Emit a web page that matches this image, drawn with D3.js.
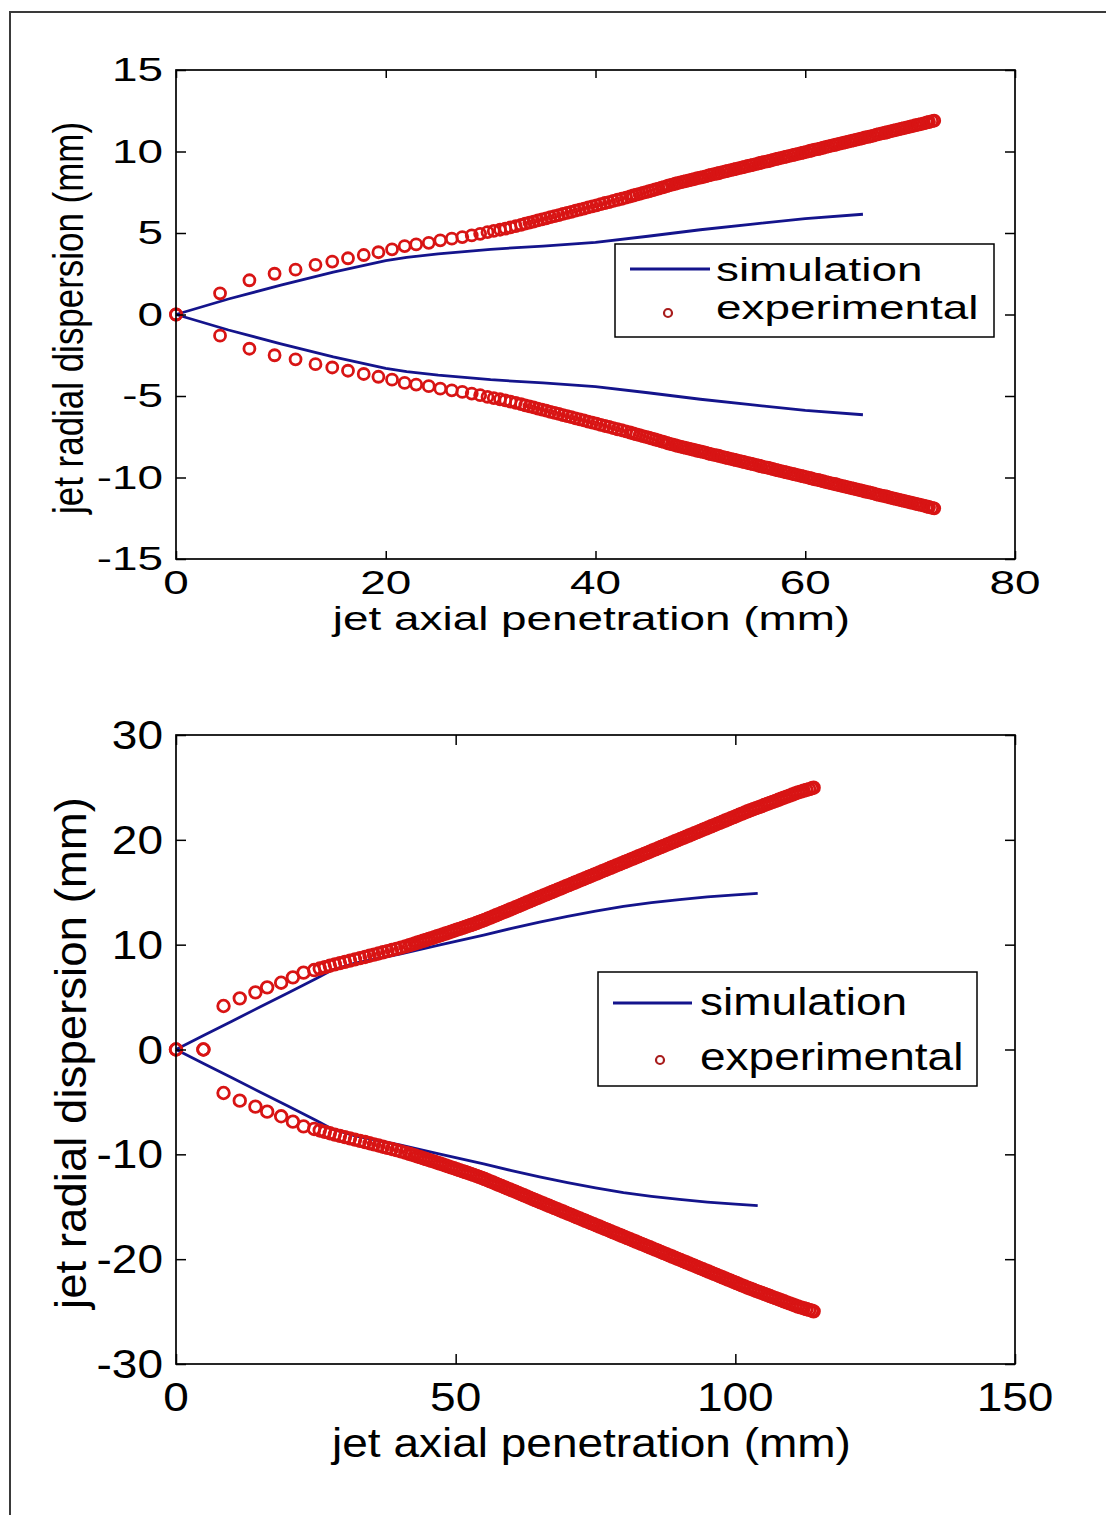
<!DOCTYPE html>
<html><head><meta charset="utf-8">
<script src="https://cdn.jsdelivr.net/npm/d3@7"></script>
<style>body{margin:0;background:#fff}svg{display:block}text{font-family:"Liberation Sans",Arial,sans-serif;fill:#000}</style>
</head><body><div id="chart"></div>
<script>
// ---------- data: top panel ----------
const top_xTicks = [0, 20, 40, 60, 80];
const top_yTicks = [-15, -10, -5, 0, 5, 10, 15];
const top_simX = [0, 5, 10, 15, 20, 22, 25, 30, 35, 40, 45, 50, 55, 60, 65.5];
const top_simR = [0, 0.95, 1.8, 2.6, 3.3, 3.5, 3.72, 4.0, 4.2, 4.42, 4.8, 5.2, 5.55, 5.88, 6.15];
const top_expX = [0, 4.2, 7.0, 9.4, 11.4, 13.3, 14.9, 16.4, 17.9, 19.3, 20.6, 21.8, 22.9, 24.1, 25.2, 26.3,
  27.3, 28.2, 29.0, 29.7, 30.3, 30.9, 31.4, 31.9, 32.4, 32.9, 33.3, 33.7, 34.1, 34.5, 34.9, 35.3, 35.7, 36.1, 36.5, 36.9,
  37.3, 37.7, 38.1, 38.5, 38.9, 39.3, 39.7, 40.1, 40.5, 40.9, 41.3, 41.7, 42.1, 42.5, 42.9, 43.3, 43.6, 43.9, 44.2, 44.5,
  44.8, 45.1, 45.4, 45.7, 46.0, 46.3,
  46.5, 46.8, 47.0, 47.3, 47.6, 47.8, 48.1, 48.4, 48.6, 48.9, 49.2, 49.4,
  49.7, 50.0, 50.2, 50.5, 50.8, 51.0, 51.3, 51.6, 51.8, 52.1, 52.4, 52.6, 52.9, 53.2, 53.4, 53.7, 54.0, 54.2, 54.5, 54.8,
  55.0, 55.3, 55.6, 55.8, 56.1, 56.4, 56.6, 56.9, 57.2, 57.4, 57.7, 58.0, 58.2, 58.5, 58.8, 59.0, 59.3, 59.6, 59.8, 60.1,
  60.4, 60.6, 60.9, 61.2, 61.4, 61.7, 62.0, 62.2, 62.5, 62.8, 63.0, 63.3, 63.6, 63.8, 64.1, 64.4, 64.6, 64.9, 65.2, 65.4,
  65.7, 66.0, 66.2, 66.5, 66.8, 67.0, 67.3, 67.6, 67.8, 68.1, 68.4, 68.6, 68.9, 69.2, 69.4, 69.7, 70.0, 70.2, 70.5, 70.8,
  71.0, 71.3, 71.6, 71.8, 72.1, 72.3];
const top_expR = [0, 1.3, 2.1, 2.5, 2.75, 3.05, 3.25, 3.45, 3.65, 3.82, 4.0, 4.2, 4.3, 4.4, 4.55, 4.65,
  4.75, 4.85, 4.95, 5.05, 5.13, 5.2, 5.27, 5.34, 5.42, 5.5, 5.57, 5.64, 5.7, 5.77, 5.83, 5.9, 5.97, 6.04, 6.1, 6.17,
  6.24, 6.3, 6.37, 6.44, 6.5, 6.57, 6.63, 6.7, 6.77, 6.84, 6.9, 6.97, 7.04, 7.1, 7.17, 7.24, 7.3, 7.35, 7.4, 7.46,
  7.51, 7.56, 7.62, 7.67, 7.72, 7.78,
  7.82, 7.88, 7.92, 7.97, 8.02, 8.06, 8.1, 8.15, 8.18, 8.23, 8.28, 8.31,
  8.36, 8.4, 8.43, 8.48, 8.53, 8.56, 8.61, 8.65, 8.68, 8.73, 8.78, 8.81, 8.86, 8.9, 8.93, 8.98, 9.03, 9.06, 9.11, 9.15,
  9.18, 9.23, 9.28, 9.31, 9.36, 9.4, 9.43, 9.48, 9.53, 9.56, 9.61, 9.65, 9.68, 9.73, 9.78, 9.81, 9.86, 9.9, 9.93, 9.98,
  10.03, 10.06, 10.11, 10.15, 10.18, 10.23, 10.28, 10.31, 10.36, 10.4, 10.43, 10.48, 10.53, 10.56, 10.61, 10.65, 10.68, 10.73, 10.78, 10.81,
  10.86, 10.9, 10.93, 10.98, 11.03, 11.06, 11.11, 11.15, 11.18, 11.23, 11.28, 11.31, 11.36, 11.4, 11.43, 11.48, 11.53, 11.56, 11.61, 11.65,
  11.68, 11.73, 11.78, 11.81, 11.86, 11.89];

// ---------- data: bottom panel ----------
const bot_xTicks = [0, 50, 100, 150];
const bot_yTicks = [-30, -20, -10, 0, 10, 20, 30];
const bot_simX = [0, 5, 10, 15, 20, 25, 28, 32, 40, 47, 55, 60, 65, 70, 75, 80, 85, 90, 95, 100, 104];
const bot_simR = [0, 1.35, 2.7, 4.05, 5.4, 6.75, 7.6, 8.25, 9.1, 9.95, 10.9, 11.55, 12.15, 12.7, 13.2, 13.65, 14.0, 14.3, 14.55, 14.75, 14.9];
const bot_expX = [0, 4.9, 8.5, 11.4, 14.2, 16.3, 18.8, 20.9, 22.8, 24.7, 25.7, 26.6, 27.5, 28.4, 29.3, 30.2, 31.1, 32.0, 32.9,
  33.8, 34.6, 35.4, 36.2, 37.0, 37.8, 38.6, 39.4, 40.2, 41.0, 41.7, 42.2, 42.7, 43.2, 43.7, 44.2, 44.7, 45.2, 45.7, 46.2,
  46.7, 47.2, 47.7, 48.2, 48.7, 49.2, 49.7, 50.2, 50.7, 51.2, 51.7, 52.2, 52.7, 53.2, 53.7, 54.2, 54.7, 55.2, 55.7, 56.2,
  56.7, 57.2, 57.7, 58.2, 58.7, 59.2, 59.7, 60.2, 60.7, 61.2, 61.7, 62.2, 62.7, 63.2, 63.7, 64.2, 64.7, 65.2, 65.7, 66.2,
  66.7, 67.2, 67.7, 68.2, 68.7, 69.2, 69.7, 70.2, 70.7, 71.2, 71.7, 72.2, 72.7, 73.2, 73.7, 74.2, 74.7, 75.2, 75.7, 76.2,
  76.7, 77.2, 77.7, 78.2, 78.7, 79.2, 79.7, 80.2, 80.7, 81.2, 81.7, 82.2, 82.7, 83.2, 83.7, 84.2, 84.7, 85.2, 85.7, 86.2,
  86.7, 87.2, 87.7, 88.2, 88.7, 89.2, 89.7, 90.2, 90.7, 91.2, 91.7, 92.2, 92.7, 93.2, 93.7, 94.2, 94.7, 95.2, 95.7, 96.2,
  96.7, 97.2, 97.7, 98.2, 98.7, 99.2, 99.7, 100.2, 100.7, 101.2, 101.7, 102.2, 102.7, 103.2, 103.7, 104.2, 104.7, 105.2, 105.7, 106.2,
  106.7, 107.2, 107.7, 108.2, 108.7, 109.2, 109.7, 110.2, 110.7, 111.2, 111.7, 112.2, 112.7, 113.2, 113.7, 114.0];
const bot_expR = [0, 0, 4.15, 4.88, 5.45, 5.93, 6.37, 6.88, 7.33, 7.58, 7.72, 7.86, 7.99, 8.12, 8.24, 8.36, 8.48, 8.6, 8.72,
  8.83, 8.94, 9.05, 9.16, 9.27, 9.38, 9.49, 9.6, 9.72, 9.84, 9.95, 10.03, 10.11, 10.2, 10.28, 10.37, 10.45, 10.54, 10.62, 10.71,
  10.8, 10.88, 10.97, 11.06, 11.15, 11.24, 11.33, 11.42, 11.51, 11.6, 11.69, 11.78, 11.87, 11.96, 12.06, 12.16, 12.26, 12.36, 12.47, 12.58,
  12.69, 12.8, 12.91, 13.02, 13.13, 13.24, 13.35, 13.46, 13.57, 13.68, 13.8, 13.91, 14.02, 14.13, 14.25, 14.36, 14.47, 14.58, 14.69, 14.8,
  14.91, 15.02, 15.13, 15.24, 15.35, 15.46, 15.57, 15.68, 15.79, 15.9, 16.01, 16.12, 16.23, 16.34, 16.45, 16.56, 16.67, 16.78, 16.89, 17.0,
  17.11, 17.22, 17.33, 17.44, 17.55, 17.66, 17.77, 17.88, 17.99, 18.1, 18.21, 18.32, 18.43, 18.54, 18.65, 18.76, 18.87, 18.98, 19.09, 19.2,
  19.31, 19.42, 19.53, 19.64, 19.75, 19.86, 19.97, 20.08, 20.19, 20.3, 20.41, 20.52, 20.63, 20.74, 20.85, 20.96, 21.07, 21.18, 21.29, 21.4,
  21.51, 21.62, 21.73, 21.84, 21.95, 22.06, 22.17, 22.28, 22.39, 22.5, 22.61, 22.72, 22.82, 22.92, 23.02, 23.12, 23.22, 23.32, 23.42, 23.52,
  23.62, 23.72, 23.82, 23.92, 24.02, 24.12, 24.22, 24.32, 24.42, 24.52, 24.6, 24.68, 24.76, 24.84, 24.92, 24.98];

const legendLabels = ["simulation", "experimental"];
const xLabel = "jet axial penetration (mm)";
const yLabel = "jet radial dispersion (mm)";

// ---------- drawing ----------
const W = 1106, H = 1515;
const svg = d3.select("#chart").append("svg").attr("width", W).attr("height", H);
svg.append("rect").attr("width", W).attr("height", H).attr("fill", "#fff");
svg.append("path").attr("d", `M10,${H} L10,12 L${W},12`).attr("fill", "none").attr("stroke", "#3a3a3a").attr("stroke-width", 2);

const SIM = "#14148c", EXP = "#d81414";

function stext(g, str, x, y, size, sx, anchor, rotate) {
  const t = g.append("text").text(str).attr("font-size", size).attr("text-anchor", anchor || "start");
  t.attr("transform", `translate(${x},${y}) scale(${sx},1)` + (rotate ? ` rotate(${rotate})` : ""));
  return t;
}

function panel(cfg) {
  const g = svg.append("g");
  const x = d3.scaleLinear().domain(cfg.xDomain).range([cfg.left, cfg.right]);
  const y = d3.scaleLinear().domain(cfg.yDomain).range([cfg.bottom, cfg.top]);

  // simulation lines (upper and lower)
  const line = d3.line().x(d => x(d[0])).y(d => y(d[1]));
  const up = cfg.simX.map((v, i) => [v, cfg.simR[i]]);
  const lo = cfg.simX.map((v, i) => [v, -cfg.simR[i]]);
  [up, lo].forEach(p => g.append("path").attr("d", line(p)).attr("fill", "none")
    .attr("stroke", SIM).attr("stroke-width", 2.8).attr("stroke-linejoin", "round"));

  // experimental circles
  const pts = [];
  cfg.expX.forEach((v, i) => { pts.push([v, cfg.expR[i]]); pts.push([v, -cfg.expR[i]]); });
  g.append("g").selectAll("circle").data(pts).join("circle")
    .attr("cx", d => x(d[0])).attr("cy", d => y(d[1])).attr("r", cfg.mr)
    .attr("fill", "none").attr("stroke", EXP).attr("stroke-width", 2.8);

  // axes box
  g.append("rect").attr("x", cfg.left).attr("y", cfg.top).attr("width", cfg.right - cfg.left)
    .attr("height", cfg.bottom - cfg.top).attr("fill", "none").attr("stroke", "#000").attr("stroke-width", 1.7);

  // ticks via d3 axes (inward), mirrored on top/right
  const ax = (gen, tr) => g.append("g").attr("transform", tr).call(gen)
    .call(s => { s.select(".domain").remove(); s.selectAll("text").remove(); s.selectAll("line").attr("stroke", "#000").attr("stroke-width", 1.5); });
  ax(d3.axisBottom(x).tickValues(cfg.xTicks).tickSize(-cfg.tickLenV), `translate(0,${cfg.bottom})`);
  ax(d3.axisTop(x).tickValues(cfg.xTicks).tickSize(-cfg.tickLenV), `translate(0,${cfg.top})`);
  ax(d3.axisLeft(y).tickValues(cfg.yTicks).tickSize(-cfg.tickLen), `translate(${cfg.left},0)`);
  ax(d3.axisRight(y).tickValues(cfg.yTicks).tickSize(-cfg.tickLen), `translate(${cfg.right},0)`);

  // tick labels
  cfg.yTicks.forEach(v => stext(g, String(v), cfg.left - 13, y(v) + cfg.yLabOff, cfg.fs, cfg.sx, "end"));
  cfg.xTicks.forEach(v => stext(g, String(v), x(v), cfg.xTickBase, cfg.fs, cfg.sx, "middle"));

  // axis titles
  stext(g, xLabel, (cfg.left + cfg.right) / 2 - 4, cfg.xLabBase, cfg.fs, cfg.sx, "middle");
  g.append("text").text(yLabel).attr("font-size", cfg.fs).attr("text-anchor", "middle")
    .attr("textLength", cfg.yLabLen).attr("lengthAdjust", "spacingAndGlyphs")
    .attr("transform", `translate(${cfg.yLabX},${cfg.yLabY}) scale(${cfg.ySx},1) rotate(-90)`);

  // legend
  const L = cfg.legend;
  g.append("rect").attr("x", L.x0).attr("y", L.y0).attr("width", L.x1 - L.x0).attr("height", L.y1 - L.y0)
    .attr("fill", "#fff").attr("stroke", "#000").attr("stroke-width", 1.5);
  g.append("line").attr("x1", L.lx0).attr("x2", L.lx1).attr("y1", L.ly).attr("y2", L.ly)
    .attr("stroke", SIM).attr("stroke-width", 2.8);
  g.append("circle").attr("cx", L.mx).attr("cy", L.my).attr("r", 4).attr("fill", "none")
    .attr("stroke", "#a81c1c").attr("stroke-width", 2.2);
  stext(g, legendLabels[0], L.tx, L.b1, L.fs, L.sx, "start");
  stext(g, legendLabels[1], L.tx, L.b2, L.fs, L.sx, "start");
}

panel({
  left: 176, right: 1015, top: 70, bottom: 559,
  xDomain: [0, 80], yDomain: [-15, 15], xTicks: top_xTicks, yTicks: top_yTicks,
  simX: top_simX, simR: top_simR, expX: top_expX, expR: top_expR, mr: 5.5,
  tickLen: 10, tickLenV: 8,
  fs: 33, sx: 1.39, yLabOff: 11, xTickBase: 594, xLabBase: 630,
  yLabX: 83, yLabY: 318, yLabLen: 392, ySx: 1.3,
  legend: { x0: 615, y0: 244, x1: 994, y1: 337, lx0: 630, lx1: 710, ly: 269, mx: 668, my: 313,
    tx: 716, b1: 281, b2: 319, fs: 33, sx: 1.39 }
});

panel({
  left: 176, right: 1015, top: 735, bottom: 1364,
  xDomain: [0, 150], yDomain: [-30, 30], xTicks: bot_xTicks, yTicks: bot_yTicks,
  simX: bot_simX, simR: bot_simR, expX: bot_expX, expR: bot_expR, mr: 5.8,
  tickLen: 10, tickLenV: 10,
  fs: 40, sx: 1.15, yLabOff: 14, xTickBase: 1411, xLabBase: 1457,
  yLabX: 86, yLabY: 1053, yLabLen: 512, ySx: 1.1,
  legend: { x0: 598, y0: 972, x1: 977, y1: 1086, lx0: 613, lx1: 692, ly: 1003, mx: 660, my: 1060,
    tx: 700, b1: 1015, b2: 1070, fs: 39, sx: 1.18 }
});
</script></body></html>
